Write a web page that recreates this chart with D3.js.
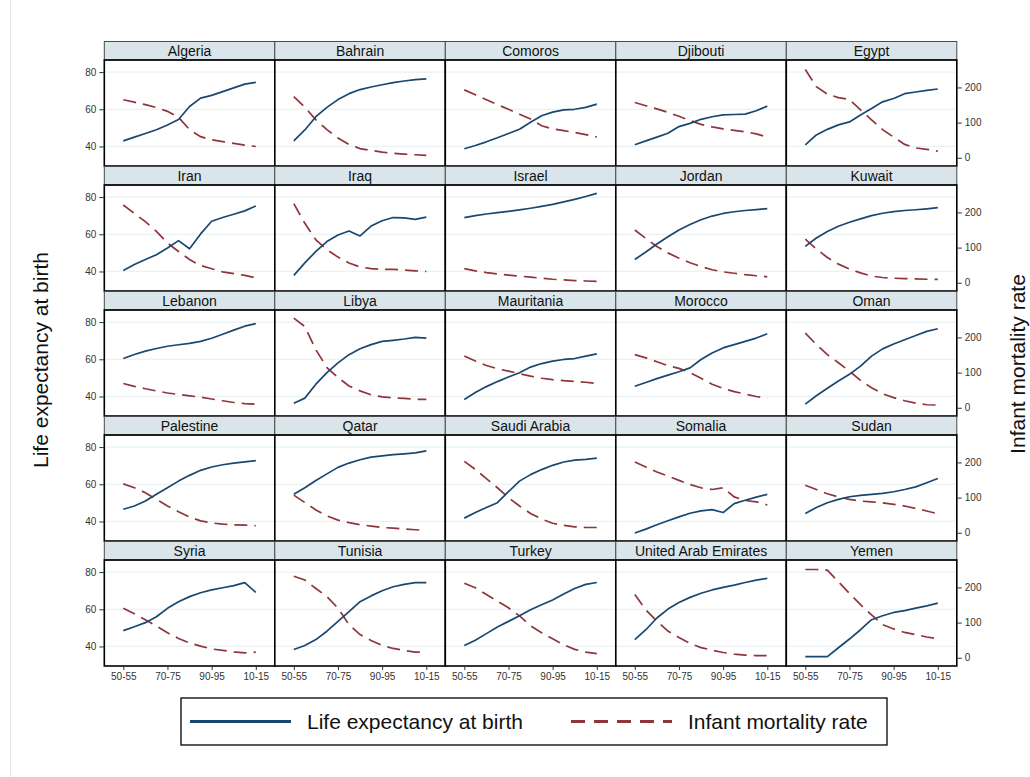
<!DOCTYPE html>
<html>
<head>
<meta charset="utf-8">
<script src="https://cdn.jsdelivr.net/npm/d3@7"></script>
<style>
  html, body { margin: 0; padding: 0; background: #fff; }
  svg { display: block; font-family: "Liberation Sans", Arial, Helvetica, sans-serif; }
</style>
</head>
<body>
<svg id="chart" width="1030" height="777"></svg>
<script>
// ---------------- DATA ----------------
const periods = ["50-55","55-60","60-65","65-70","70-75","75-80","80-85","85-90","90-95","95-00","00-05","05-10","10-15"];
const periodTickLabels = ["50-55","70-75","90-95","10-15"];
const lifeTicks = [40, 60, 80];
const mortalityTicks = [0, 100, 200];

const countries = ["Algeria","Bahrain","Comoros","Djibouti","Egypt",
  "Iran","Iraq","Israel","Jordan","Kuwait",
  "Lebanon","Libya","Mauritania","Morocco","Oman",
  "Palestine","Qatar","Saudi Arabia","Somalia","Sudan",
  "Syria","Tunisia","Turkey","United Arab Emirates","Yemen"];

// Life expectancy at birth (years), one row per country, in the order above
const lifeExpectancy = [
  [43, 45, 47, 49, 51.5, 54.5, 61.5, 66, 67.5, 69.5, 71.5, 73.5, 74.5],
  [43, 48.9, 56, 61, 65.2, 68.4, 70.6, 72, 73.2, 74.3, 75.2, 75.9, 76.4],
  [38.8, 40.5, 42.5, 44.7, 47, 49.3, 53, 56.5, 58.5, 59.7, 60, 61, 62.8],
  [40.9, 43, 45, 47.1, 50.7, 52.4, 54.6, 56, 57, 57.2, 57.4, 59.2, 61.7],
  [40.9, 46.2, 49.2, 51.6, 53.2, 56.9, 60.4, 64, 65.8, 68.4, 69.3, 70.2, 70.9],
  [40.5, 43.7, 46.4, 49, 52.6, 56.6, 52.2, 60.2, 67, 69, 70.8, 72.6, 75.2],
  [37.9, 44.6, 50.8, 56.1, 59.6, 61.8, 59.1, 64.4, 67.3, 69, 68.8, 68, 69.2],
  [69, 70, 70.9, 71.6, 72.3, 73.1, 74, 75, 76.1, 77.4, 78.8, 80.3, 82],
  [46.4, 50.5, 54.8, 58.7, 62.3, 65.3, 67.8, 69.8, 71.2, 72.1, 72.8, 73.3, 73.8],
  [53.5, 58, 61.5, 64.3, 66.5, 68.3, 70, 71.3, 72.2, 72.8, 73.2, 73.7, 74.3],
  [60.4, 62.6, 64.4, 65.8, 67, 67.8, 68.6, 69.6, 71.3, 73.5, 75.7, 77.8, 79.2],
  [36.4, 39.1, 46.6, 52.8, 58.1, 62.5, 65.7, 67.9, 69.6, 70.2, 70.9, 71.8, 71.4],
  [38.4, 42.1, 45.3, 48, 50.5, 52.8, 55.8, 57.7, 59, 59.9, 60.4, 61.7, 62.9],
  [45.5, 47.5, 49.6, 51.5, 53.3, 55.4, 59.9, 63.4, 66.1, 67.9, 69.6, 71.4, 73.7],
  [35.9, 40.4, 44.4, 48.3, 51.9, 56.3, 61.7, 65.6, 68.2, 70.5, 72.8, 75, 76.4],
  [46.6, 48.3, 51, 54.6, 58.1, 61.7, 64.8, 67.5, 69.3, 70.5, 71.4, 72, 72.7],
  [54.6, 58.1, 62, 65.6, 69.1, 71.4, 73.2, 74.6, 75.3, 75.9, 76.4, 76.9, 78],
  [41.8, 44.8, 47.5, 50.1, 56, 61.7, 65.2, 67.9, 70.2, 72, 73, 73.4, 74.1],
  [33.8, 35.9, 38.2, 40.4, 42.5, 44.4, 45.7, 46.4, 44.8, 49.6, 51.4, 53.1, 54.6],
  [44.3, 47.5, 50.1, 51.9, 53.3, 54, 54.6, 55.1, 56, 57.2, 58.6, 60.8, 63.1],
  [48.5, 50.6, 52.8, 56, 60.5, 64, 66.8, 68.9, 70.4, 71.6, 72.7, 74.3, 69.1],
  [38.4, 40.5, 43.7, 48.2, 53.5, 58.8, 64.1, 67.2, 70, 72.1, 73.4, 74.3, 74.3],
  [40.5, 43.4, 46.9, 50.5, 53.5, 56.5, 59.7, 62.4, 65, 68.2, 71.2, 73.4, 74.4],
  [43.7, 49, 55.3, 60.1, 63.6, 66.4, 68.6, 70.4, 71.8, 73, 74.4, 75.7, 76.6],
  [34.5, 34.5, 34.5, 39.3, 44, 49, 54.4, 56.5, 58.3, 59.3, 60.6, 61.8, 63.3]
];

// Infant mortality rate (per 1000), one row per country, in the order above
const infantMortality = [
  [165, 158, 151, 143, 132, 115, 80, 60, 51, 46, 41, 36, 32],
  [174, 144, 108, 80, 56, 38, 26, 21, 16, 12.5, 10.5, 8.6, 6.8],
  [193, 179, 165, 151, 138, 124, 110, 91, 82, 77, 72, 66, 59],
  [157, 148, 139, 129, 118, 106, 95, 88, 82, 78, 74, 68, 59],
  [251, 202, 181, 171, 166, 136, 108, 80, 59, 38, 28, 24, 19],
  [221, 197, 174, 146, 113, 89, 66, 49, 40, 31, 26, 21, 14],
  [225, 169, 122, 94, 73, 56, 45, 40, 38, 38, 36, 34, 32],
  [40, 34, 29, 25, 22, 19, 16, 13, 10, 8, 6, 5, 4],
  [150, 126, 103, 85, 70, 57, 46, 37, 31, 27, 23, 20, 17],
  [124, 96, 72, 53, 39, 28, 19, 15, 13, 12, 11, 10, 9.5],
  [69, 61, 54, 48, 42, 38, 34, 30, 25, 20, 15, 12, 10],
  [255, 231, 165, 114, 86, 62, 48, 37, 31, 28, 26.5, 24, 24],
  [147, 133, 120, 111, 104, 97, 90, 84, 80, 77, 75, 72.5, 69],
  [151, 142, 131, 120, 112, 100, 84, 67, 55, 46, 39, 32, 27],
  [212, 180, 151, 128, 104, 78, 57, 40, 29, 20, 13, 8.6, 7.7],
  [139, 128, 114, 95, 76, 60, 45, 34, 28, 24.6, 22.7, 21.8, 20],
  [107, 86, 65, 48, 36, 29, 23, 19, 15, 13, 10.5, 8.6, 6.8],
  [203, 180, 154, 128, 100, 76, 55, 39, 27, 21, 17, 15, 15],
  [201, 187, 173, 161, 149, 137, 128, 123, 128, 102, 92, 88, 79],
  [135, 123, 111, 102, 95, 90, 88, 85, 81, 76, 69, 62, 54],
  [141, 125, 108, 90, 71, 55, 42, 33, 25, 21, 17, 14, 16],
  [232, 221, 197, 174, 141, 94, 66, 49, 35, 26.5, 21, 16, 16],
  [212, 199, 180, 161, 142, 119, 91, 71, 54, 37, 24, 16, 12],
  [180, 136, 104, 76, 57.5, 40.5, 29, 21.6, 15, 10.5, 7.7, 6, 6],
  [251, 251, 249, 216, 183, 151, 122, 94, 82, 72, 66, 59, 54]
];

const seriesNames = ["Life expectancy at birth", "Infant mortality rate"];

// ---------------- LAYOUT ----------------
const svg = d3.select("#chart");
const nCols = 5, nRows = 5;
const gridLeft = 104.3, colW = 170.5;
const gridTop = 41.5, rowH = 125, stripH = 18.5, plotH = 106;
const xPad = 19;
const leColor = "#1a476f", imrColor = "#90353b";
const lifeDomain = [29.5, 86.5];
const mortDomain = [-23.4, 278];

// outer faint border
svg.append("line").attr("x1", 10.5).attr("x2", 10.5).attr("y1", 0).attr("y2", 777)
  .attr("stroke", "#e8e8e8").attr("stroke-width", 1);

countries.forEach((name, i) => {
  const c = i % nCols, r = Math.floor(i / nCols);
  const left = gridLeft + c * colW;
  const stripTop = gridTop + r * rowH;
  const plotTop = stripTop + stripH;
  const plotBottom = plotTop + plotH;

  const x = d3.scalePoint().domain(periods).range([left + xPad, left + colW - xPad]);
  const yL = d3.scaleLinear().domain(lifeDomain).range([plotBottom, plotTop]);
  const yR = d3.scaleLinear().domain(mortDomain).range([plotBottom, plotTop]);

  const g = svg.append("g");

  g.append("rect").attr("x", left).attr("y", plotTop).attr("width", colW).attr("height", plotH)
    .attr("fill", "#fff");

  g.selectAll(".grid").data(lifeTicks).join("line")
    .attr("x1", left).attr("x2", left + colW)
    .attr("y1", d => yL(d)).attr("y2", d => yL(d))
    .attr("stroke", "#eaf2f3").attr("stroke-width", 1.2);

  const leData = lifeExpectancy[i].map((v, k) => [periods[k], v]);
  const imrData = infantMortality[i].map((v, k) => [periods[k], v]);

  g.append("path").datum(imrData)
    .attr("fill", "none").attr("stroke", imrColor).attr("stroke-width", 1.7)
    .attr("stroke-dasharray", "13,7")
    .attr("d", d3.line().x(d => x(d[0])).y(d => yR(d[1])));

  g.append("path").datum(leData)
    .attr("fill", "none").attr("stroke", leColor).attr("stroke-width", 1.7)
    .attr("stroke-linejoin", "round")
    .attr("d", d3.line().x(d => x(d[0])).y(d => yL(d[1])));

  g.append("rect").attr("x", left).attr("y", stripTop).attr("width", colW).attr("height", stripH)
    .attr("fill", "#d9e5eb").attr("stroke", "#4a4a4a").attr("stroke-width", 1);
  g.append("text").attr("x", left + colW / 2).attr("y", stripTop + stripH / 2 + 5)
    .attr("text-anchor", "middle").attr("font-size", 14).attr("fill", "#111")
    .text(name);

  g.append("rect").attr("x", left).attr("y", plotTop).attr("width", colW).attr("height", plotH)
    .attr("fill", "none").attr("stroke", "#000").attr("stroke-width", 1.6);

  if (c === 0) {
    const ax = g.append("g").attr("transform", `translate(${left},0)`)
      .call(d3.axisLeft(yL).tickValues(lifeTicks).tickSize(5).tickPadding(3));
    ax.select(".domain").remove();
    ax.selectAll("text").attr("font-size", 10).attr("fill", "#333")
      .attr("font-family", "Liberation Sans, Arial, sans-serif");
    ax.selectAll("line").attr("stroke", "#333");
  }
  if (c === nCols - 1) {
    const ax = g.append("g").attr("transform", `translate(${left + colW},0)`)
      .call(d3.axisRight(yR).tickValues(mortalityTicks).tickSize(5).tickPadding(3));
    ax.select(".domain").remove();
    ax.selectAll("text").attr("font-size", 10).attr("fill", "#333")
      .attr("font-family", "Liberation Sans, Arial, sans-serif");
    ax.selectAll("line").attr("stroke", "#333");
  }
  if (r === nRows - 1) {
    const ax = g.append("g").attr("transform", `translate(0,${plotBottom})`)
      .call(d3.axisBottom(x).tickValues(periodTickLabels).tickSize(4).tickPadding(3));
    ax.select(".domain").remove();
    ax.selectAll("text").attr("font-size", 10).attr("fill", "#333")
      .attr("font-family", "Liberation Sans, Arial, sans-serif");
    ax.selectAll("line").attr("stroke", "#333");
  }
});

// axis titles
svg.append("text")
  .attr("transform", "translate(48,360) rotate(-90)")
  .attr("text-anchor", "middle").attr("font-size", 21).attr("fill", "#111")
  .text(seriesNames[0]);
svg.append("text")
  .attr("transform", "translate(1025,364) rotate(-90)")
  .attr("text-anchor", "middle").attr("font-size", 21).attr("fill", "#111")
  .text(seriesNames[1]);

// legend
const lg = svg.append("g");
lg.append("rect").attr("x", 181).attr("y", 698).attr("width", 706).attr("height", 47)
  .attr("fill", "#fff").attr("stroke", "#000").attr("stroke-width", 1.3);
lg.append("line").attr("x1", 190).attr("x2", 291).attr("y1", 721.5).attr("y2", 721.5)
  .attr("stroke", leColor).attr("stroke-width", 2.8);
lg.append("text").attr("x", 307).attr("y", 729).attr("font-size", 21).attr("fill", "#111")
  .text(seriesNames[0]);
lg.append("line").attr("x1", 571).attr("x2", 672).attr("y1", 721.5).attr("y2", 721.5)
  .attr("stroke", imrColor).attr("stroke-width", 2.8).attr("stroke-dasharray", "14,9");
lg.append("text").attr("x", 688).attr("y", 729).attr("font-size", 21).attr("fill", "#111")
  .text(seriesNames[1]);
</script>
</body>
</html>
